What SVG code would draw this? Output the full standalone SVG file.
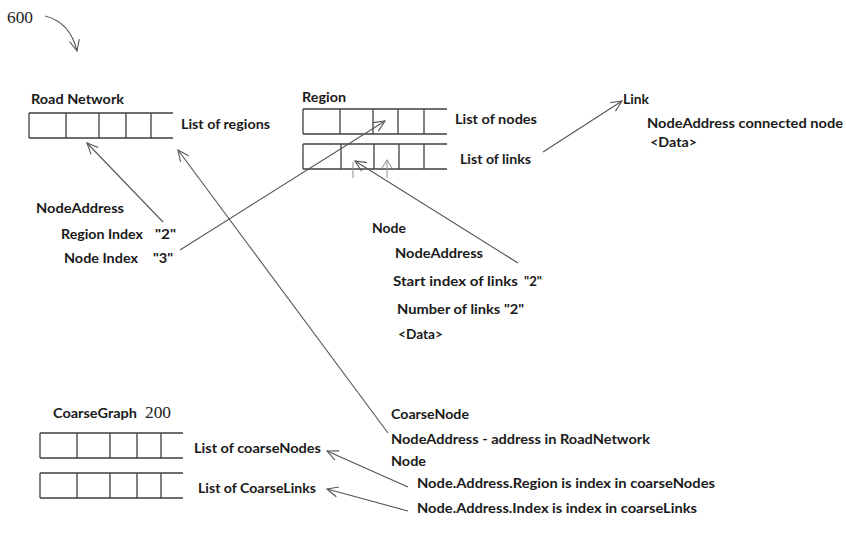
<svg xmlns="http://www.w3.org/2000/svg" width="846" height="543" viewBox="0 0 846 543">
<style>
.t{font-family:Lato,"Open Sans","Liberation Sans",sans-serif;font-weight:700;font-size:14px;fill:#1a1a1a}
.s{font-family:"Liberation Serif","DejaVu Serif",serif;font-size:17px;fill:#222}
.tb{fill:none;stroke:#404040;stroke-width:1.3}
.ln{fill:none;stroke:#555;stroke-width:1.1}
.fa{fill:none;stroke:#9a9a9a;stroke-width:1.1}
</style>
<defs>
<marker id="ah" viewBox="-12 -6 14 12" refX="0" refY="0" markerWidth="14" markerHeight="12" markerUnits="userSpaceOnUse" orient="auto">
<path d="M-11,-5 L0,0 L-11,5" fill="none" stroke="#555" stroke-width="1.1"/>
</marker>
<marker id="ahf" viewBox="-12 -6 14 12" refX="0" refY="0" markerWidth="14" markerHeight="12" markerUnits="userSpaceOnUse" orient="auto">
<path d="M-8,-5 L0,0 L-8,5" fill="none" stroke="#9a9a9a" stroke-width="1.1"/>
</marker>
</defs>

<g id="label600">
<text class="s" x="7" y="23" textLength="26" lengthAdjust="spacingAndGlyphs">600</text>
</g>

<g id="roadNetwork">
<text class="t" x="31" y="104" textLength="93" lengthAdjust="spacingAndGlyphs">Road Network</text>
<path class="tb" d="M29,113 H173 M29,138 H173 M29,113 V138 M66,113 V138 M99,113 V138 M126,113 V138 M151,113 V138"/>
<text class="t" x="181" y="129" textLength="89" lengthAdjust="spacingAndGlyphs">List of regions</text>
</g>

<g id="region">
<text class="t" x="302" y="102" textLength="44" lengthAdjust="spacingAndGlyphs">Region</text>
<path class="tb" d="M303,109 H447 M303,134 H447 M303,109 V134 M340,109 V134 M373,109 V134 M398,109 V134 M424,109 V134"/>
<path class="tb" d="M303,144 H447 M303,169 H447 M303,144 V169 M341,144 V169 M374,144 V169 M399,144 V169 M424,144 V169"/>
<text class="t" x="455" y="124" textLength="82" lengthAdjust="spacingAndGlyphs">List of nodes</text>
<text class="t" x="460" y="164" textLength="71" lengthAdjust="spacingAndGlyphs">List of links</text>
</g>

<g id="link">
<text class="t" x="623" y="104" textLength="26" lengthAdjust="spacingAndGlyphs">Link</text>
<text class="t" x="647" y="128" textLength="196" lengthAdjust="spacingAndGlyphs">NodeAddress connected node</text>
<text class="t" x="650" y="147" textLength="47" lengthAdjust="spacingAndGlyphs">&lt;Data&gt;</text>
</g>

<g id="nodeAddress">
<text class="t" x="36" y="213" textLength="88" lengthAdjust="spacingAndGlyphs">NodeAddress</text>
<text class="t" x="61" y="239"><tspan textLength="82" lengthAdjust="spacingAndGlyphs">Region Index</tspan><tspan x="155" textLength="21" lengthAdjust="spacingAndGlyphs">"2"</tspan></text>
<text class="t" x="64" y="263"><tspan textLength="74" lengthAdjust="spacingAndGlyphs">Node Index</tspan><tspan x="153" textLength="20" lengthAdjust="spacingAndGlyphs">"3"</tspan></text>
</g>

<g id="node">
<text class="t" x="372" y="233" textLength="34" lengthAdjust="spacingAndGlyphs">Node</text>
<text class="t" x="395" y="258" textLength="88" lengthAdjust="spacingAndGlyphs">NodeAddress</text>
<text class="t" x="393" y="286"><tspan textLength="125" lengthAdjust="spacingAndGlyphs">Start index of links</tspan><tspan x="524" textLength="18" lengthAdjust="spacingAndGlyphs">"2"</tspan></text>
<text class="t" x="397" y="314" textLength="127" lengthAdjust="spacingAndGlyphs">Number of links "2"</text>
<text class="t" x="398" y="339" textLength="45" lengthAdjust="spacingAndGlyphs">&lt;Data&gt;</text>
</g>

<g id="coarseGraph">
<text class="t" x="53" y="418" textLength="84" lengthAdjust="spacingAndGlyphs">CoarseGraph</text>
<text class="s" x="145" y="418" textLength="26" lengthAdjust="spacingAndGlyphs">200</text>
<path class="tb" d="M40,433 H183 M40,458 H183 M40,433 V458 M77,433 V458 M110,433 V458 M137,433 V458 M161,433 V458"/>
<path class="tb" d="M40,473 H183 M40,498 H183 M40,473 V498 M77,473 V498 M110,473 V498 M137,473 V498 M161,473 V498"/>
<text class="t" x="194" y="453" textLength="127" lengthAdjust="spacingAndGlyphs">List of coarseNodes</text>
<text class="t" x="198" y="493" textLength="118" lengthAdjust="spacingAndGlyphs">List of CoarseLinks</text>
</g>

<g id="coarseNode">
<text class="t" x="391" y="419" textLength="78" lengthAdjust="spacingAndGlyphs">CoarseNode</text>
<text class="t" x="391" y="444" textLength="259" lengthAdjust="spacingAndGlyphs">NodeAddress - address in RoadNetwork</text>
<text class="t" x="391" y="466" textLength="35" lengthAdjust="spacingAndGlyphs">Node</text>
<text class="t" x="417" y="488" textLength="298" lengthAdjust="spacingAndGlyphs">Node.Address.Region is index in coarseNodes</text>
<text class="t" x="417" y="513" textLength="280" lengthAdjust="spacingAndGlyphs">Node.Address.Index is index in coarseLinks</text>
</g>

<g id="connectors">
<path class="ln" d="M45,16 Q70,22 77,51" marker-end="url(#ah)"/>
<path class="ln" d="M163,222 L87,143" marker-end="url(#ah)"/>
<path class="ln" d="M180,250 L385,121" marker-end="url(#ah)"/>
<path class="ln" d="M388,433 L178,150" marker-end="url(#ah)"/>
<path class="ln" d="M543,152 L622,101" marker-end="url(#ah)"/>
<path class="ln" d="M518,263 L355,161" marker-end="url(#ah)"/>
<path class="fa" d="M353,178 V162"/>
<path class="fa" d="M387,178 V160" marker-end="url(#ahf)"/>
<path class="ln" d="M408,487 L327,451" marker-end="url(#ah)"/>
<path class="ln" d="M408,511 L327,489" marker-end="url(#ah)"/>
</g>
</svg>
